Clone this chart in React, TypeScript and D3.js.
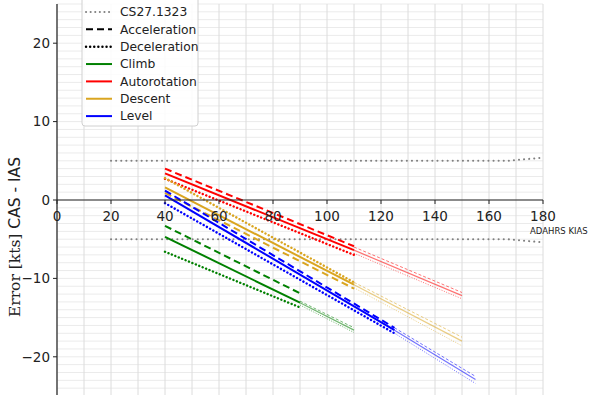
import React from "react";
import * as d3 from "d3";

const phases = ["Climb", "Autorotation", "Descent", "Level"];
const phaseColors = ["#008000", "#ff0000", "#daa520", "#0000ff"];
const xStart = [40, 40, 40, 40];
const xThickEnd = [90, 110, 110, 125];
const xThinEnd = [110, 150, 150, 155];

// [y at start, y at thick end]
const solidThick = [[-4.7, -13.1], [3.4, -6.4], [1.6, -10.8], [0.6, -16.6]];
const accelThick = [[-3.3, -11.9], [4.0, -5.9], [0.9, -11.3], [1.2, -16.3]];
const decelThick = [[-6.6, -13.7], [2.7, -7.0], [2.8, -10.5], [-0.4, -17.0]];
// [y at thick end, y at thin end]
const solidThin = [[-13.1, -16.6], [-6.4, -12.2], [-10.8, -18.0], [-16.6, -22.9]];
const accelThin = [[-12.9, -16.3], [-6.0, -11.8], [-10.5, -17.5], [-16.3, -22.5]];
const decelThin = [[-13.4, -16.9], [-6.8, -12.6], [-11.2, -18.6], [-17.0, -23.4]];

const csX = [20, 166.7, 170, 175, 180];
const csUpper = [5, 5, 5.1, 5.25, 5.4];
const csLower = [-5, -5, -5.1, -5.25, -5.4];

const xTicks = [0, 20, 40, 60, 80, 100, 120, 140, 160, 180];
const yTicks = [-20, -10, 0, 10, 20];
const legendLabels = ["CS27.1323", "Acceleration", "Deceleration", "Climb", "Autorotation", "Descent", "Level"];

const W = 589, H = 395;
const x = d3.scaleLinear().domain([0, 180]).range([57, 543]);
const y = d3.scaleLinear().domain([-25, 25]).range([396, 4]);
const line = d3.line<[number, number]>().x(d => x(d[0])).y(d => y(d[1]));

const styles: Record<string, string | undefined> = {
  solid: undefined,
  accel: "7,4",
  decel: "0.1,3.6",
};

export default function App() {
  const sans = "DejaVu Sans, sans-serif";
  const gridX = d3.range(0, 181, 10);
  const gridY = d3.range(-25, 26, 1);
  const segs: JSX.Element[] = [];
  phases.forEach((p, i) => {
    const sets: [string, number[][], number[][]][] = [
      ["accel", accelThick, accelThin],
      ["decel", decelThick, decelThin],
      ["solid", solidThick, solidThin],
    ];
    sets.forEach(([st, thick, thin]) => {
      segs.push(
        <path key={`${p}-${st}-thin`} d={line([[xThickEnd[i], thin[i][0]], [xThinEnd[i], thin[i][1]]]) || ""}
          stroke={phaseColors[i]} strokeOpacity={0.55} strokeWidth={st === "solid" ? 1.2 : 1}
          strokeDasharray={st === "solid" ? undefined : st === "accel" ? "3,2" : "1,1.5"} fill="none" />
      );
      segs.push(
        <path key={`${p}-${st}-thick`} d={line([[xStart[i], thick[i][0]], [xThickEnd[i], thick[i][1]]]) || ""}
          stroke={phaseColors[i]} strokeWidth={st === "decel" ? 2.4 : 2} strokeDasharray={styles[st]}
          strokeLinecap={st === "decel" ? "round" : "butt"} fill="none" />
      );
    });
  });
  const csUp = csX.map((v, i) => [v, csUpper[i]] as [number, number]);
  const csLo = csX.map((v, i) => [v, csLower[i]] as [number, number]);
  const legendStyles = [
    { c: "#808080", d: "0.1,4.5", cap: "round", w: 2 },
    { c: "#000", d: "7,4", cap: "butt", w: 2 },
    { c: "#000", d: "0.1,4", cap: "round", w: 2.4 },
    { c: phaseColors[0] },
    { c: phaseColors[1] },
    { c: phaseColors[2] },
    { c: phaseColors[3] },
  ];
  return (
    <svg width={W} height={H} style={{ position: "absolute", left: 0, top: 0, background: "#fff" }}>
      <rect width={W} height={H} fill="#fff" />
      {gridY.map(v => (
        <line key={"gy" + v} x1={x(0)} x2={x(180)} y1={y(v)} y2={y(v)} stroke="#ebebeb" strokeWidth={1} />
      ))}
      {gridX.map(v => (
        <line key={"gx" + v} x1={x(v)} x2={x(v)} y1={y(25)} y2={y(-25)} stroke="#dcdcdc" strokeWidth={1} />
      ))}
      <path d={line(csUp) || ""} stroke="#808080" strokeWidth={2} strokeDasharray="0.1,5" strokeLinecap="round" fill="none" />
      <path d={line(csLo) || ""} stroke="#808080" strokeWidth={2} strokeDasharray="0.1,5" strokeLinecap="round" fill="none" />
      {segs}
      {/* axes */}
      <line x1={x(0)} x2={x(0)} y1={y(25)} y2={y(-25)} stroke="#222" strokeWidth={1.2} />
      <line x1={x(0)} x2={x(180)} y1={y(0)} y2={y(0)} stroke="#222" strokeWidth={1.2} />
      {yTicks.map(v => (
        <g key={"yt" + v}>
          <line x1={x(0) - 4} x2={x(0)} y1={y(v)} y2={y(v)} stroke="#222" strokeWidth={1} />
          <text x={x(0) - 7} y={y(v)} dy="0.35em" textAnchor="end" fontFamily={sans} fontSize={13.5} fill="#222">
            {v < 0 ? "\u2212" + Math.abs(v) : String(v)}
          </text>
        </g>
      ))}
      {xTicks.map(v => (
        <g key={"xt" + v}>
          <line x1={x(v)} x2={x(v)} y1={y(0)} y2={y(0) + 4} stroke="#222" strokeWidth={1} />
          <text x={x(v)} y={y(0) + 21} textAnchor="middle" fontFamily={sans} fontSize={13.5} fill="#222">{v}</text>
        </g>
      ))}
      <text x={530} y={234} fontFamily={sans} fontSize={8.5} fill="#222">ADAHRS KIAS</text>
      <text transform={`translate(20,${237}) rotate(-90)`} textAnchor="middle" fontSize={15.5} fill="#222">
        <tspan fontFamily="DejaVu Serif, serif">Error [kts]</tspan>
        <tspan fontFamily={sans}> CAS - IAS</tspan>
      </text>
      {/* legend */}
      <rect x={82} y={-4} width={116} height={130} rx={3} fill="#fff" fillOpacity={0.85} stroke="#d0d0d0" strokeWidth={1} />
      {legendLabels.map((lab, i) => {
        const cy = 12 + i * 17.35;
        const s = legendStyles[i];
        return (
          <g key={"lg" + i}>
            <line x1={86} x2={112} y1={cy} y2={cy} stroke={s.c} strokeWidth={s.w || 2}
              strokeDasharray={s.d} strokeLinecap={(s.cap as any) || "butt"} />
            <text x={120} y={cy} dy="0.35em" fontFamily={sans} fontSize={12.3} fill="#222">{lab}</text>
          </g>
        );
      })}
    </svg>
  );
}
